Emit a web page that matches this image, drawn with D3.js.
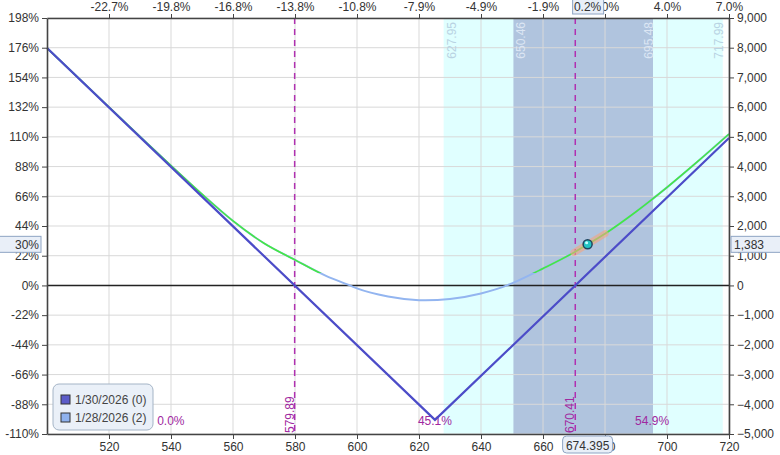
<!DOCTYPE html>
<html>
<head>
<meta charset="utf-8">
<script src="https://cdn.jsdelivr.net/npm/d3@7"></script>
<style>
body { margin: 0; background: #fff; }
svg { font-family: "Liberation Sans", Arial, sans-serif; font-size: 12px; }
.grid line { stroke: #d9d9d9; stroke-width: 1; }
.axis path, .axis line { stroke: #444; }
.axis text { fill: #333; font-size: 12px; }
</style>
</head>
<body>
<script>
// price ticks and the % change labels on top
var priceTicks = [520, 540, 560, 580, 600, 620, 640, 660, 680, 700, 720];
var topTickLabels = ["-22.7%", "-19.8%", "-16.8%", "-13.8%", "-10.8%", "-7.9%", "-4.9%", "-1.9%", "1.0%", "4.0%", "7.0%"];
var pctTicks = [198, 176, 154, 132, 110, 88, 66, 44, 22, 0, -22, -44, -66, -88, -110];
var usdTicks = [9000, 8000, 7000, 6000, 5000, 4000, 3000, 2000, 1000, 0, -1000, -2000, -3000, -4000, -5000];

// expiration P/L (1/30/2026)
var expPrices = [500, 625.15, 720];
var expValues = [7989, -4526, 4959];

// T+0 P/L (1/28/2026)
var nowPrices = [500, 510, 520, 530, 540, 550, 560, 570, 580, 590, 597.7, 600, 610, 620, 622, 630, 640, 648.4, 650, 660, 670, 674.395, 680, 690, 700, 710, 720];
var nowValues = [7989, 6995, 6000, 5010, 4030, 3070, 2170, 1420, 860, 320, 0, -100, -370, -495, -500, -455, -270, 0, 70, 570, 1110, 1383, 1740, 2480, 3300, 4180, 5095];

// bands and markers
var outerBand = [627.95, 717.99];
var innerBand = [650.46, 695.48];
var breakEvens = [579.89, 670.41];
var zoneProbs = [
    {price: 539.95, label: "0.0%"},
    {price: 625.15, label: "45.1%"},
    {price: 695.2, label: "54.9%"}
];
var currentPrice = 674.395;
var currentPL = 1383;
var currentPct = "30%";
var currentChange = "0.2%";
var greenAbove = 420;
var legendItems = [
    {label: "1/30/2026 (0)", color: "#5c5cc8"},
    {label: "1/28/2026 (2)", color: "#8fb2ee"}
];

var width = 780, height = 455;
var plotLeft = 47, plotRight = 729, plotTop = 18, plotBottom = 434;

var svg = d3.select("body").append("svg")
    .attr("width", width)
    .attr("height", height);

var x = d3.scaleLinear().domain([500, 720]).range([plotLeft, plotRight]);
var yPct = d3.scaleLinear().domain([-110, 198]).range([plotBottom, plotTop]);
var yUsd = d3.scaleLinear().domain([-5000, 9000]).range([plotBottom, plotTop]);

// bands
svg.append("rect")
    .attr("x", x(outerBand[0])).attr("y", plotTop)
    .attr("width", x(outerBand[1]) - x(outerBand[0]))
    .attr("height", plotBottom - plotTop)
    .attr("fill", "#e0ffff");
svg.append("rect")
    .attr("x", x(innerBand[0])).attr("y", plotTop)
    .attr("width", x(innerBand[1]) - x(innerBand[0]))
    .attr("height", plotBottom - plotTop)
    .attr("fill", "#b0c4de");

// grid
var grid = svg.append("g").attr("class", "grid");
grid.selectAll(".vg").data(priceTicks).enter().append("line")
    .attr("x1", function(d){ return x(d); })
    .attr("x2", function(d){ return x(d); })
    .attr("y1", plotTop).attr("y2", plotBottom);
grid.selectAll(".hg").data(usdTicks).enter().append("line")
    .attr("x1", plotLeft).attr("x2", plotRight)
    .attr("y1", function(d){ return yUsd(d); })
    .attr("y2", function(d){ return yUsd(d); });

// band edge labels
function bandLabel(p, dx, color){
    svg.append("text")
        .attr("transform", "translate(" + (x(p) + dx) + "," + (plotTop + 4) + ") rotate(-90)")
        .attr("text-anchor", "end")
        .attr("fill", color)
        .text(p.toFixed(2));
}
bandLabel(outerBand[0], 12, "#b9d3e3");
bandLabel(innerBand[0], 12, "#dce6f4");
bandLabel(innerBand[1], 0, "#dce6f4");
bandLabel(outerBand[1], 0, "#b9d3e3");

// zero line
svg.append("line")
    .attr("x1", plotLeft).attr("x2", plotRight)
    .attr("y1", yUsd(0)).attr("y2", yUsd(0))
    .attr("stroke", "#222").attr("stroke-width", 1.5);

// break even lines
breakEvens.forEach(function(p){
    svg.append("line")
        .attr("x1", x(p)).attr("x2", x(p))
        .attr("y1", plotTop).attr("y2", plotBottom)
        .attr("stroke", "#b030b0").attr("stroke-width", 1.5)
        .attr("stroke-dasharray", "6,5");
    svg.append("text")
        .attr("transform", "translate(" + (x(p) - 1) + "," + (plotBottom - 1) + ") rotate(-90)")
        .attr("fill", "#a028a0")
        .text(p.toFixed(2));
});

// zone probabilities
svg.selectAll(".prob").data(zoneProbs).enter().append("text")
    .attr("x", function(d){ return x(d.price); })
    .attr("y", plotBottom - 9)
    .attr("text-anchor", "middle")
    .attr("fill", "#a028a0")
    .text(function(d){ return d.label; });

// T+0 line
var nowData = nowPrices.map(function(p, i){ return [p, nowValues[i]]; });
var line = d3.line()
    .x(function(d){ return x(d[0]); })
    .y(function(d){ return yUsd(d[1]); })
    .curve(d3.curveMonotoneX);

svg.append("clipPath").attr("id", "greenClip")
    .append("rect")
    .attr("x", plotLeft).attr("y", plotTop)
    .attr("width", plotRight - plotLeft)
    .attr("height", yUsd(greenAbove) - plotTop);

svg.append("path")
    .datum(nowData)
    .attr("d", line)
    .attr("fill", "none")
    .attr("stroke", "#93b5f0")
    .attr("stroke-width", 2);
svg.append("path")
    .datum(nowData)
    .attr("d", line)
    .attr("fill", "none")
    .attr("stroke", "#44e844")
    .attr("stroke-width", 1.6)
    .attr("clip-path", "url(#greenClip)");

// expiration line
var expData = expPrices.map(function(p, i){ return [p, expValues[i]]; });
svg.append("path")
    .datum(expData)
    .attr("d", d3.line().x(function(d){ return x(d[0]); }).y(function(d){ return yUsd(d[1]); }))
    .attr("fill", "none")
    .attr("stroke", "#4c4cc8")
    .attr("stroke-width", 2.2);

// highlight and current marker
var hl = nowData.filter(function(d){ return d[0] >= 670 && d[0] <= 680; });
svg.append("path")
    .datum(hl)
    .attr("d", line)
    .attr("fill", "none")
    .attr("stroke", "rgba(245,165,125,0.6)")
    .attr("stroke-width", 7)
    .attr("stroke-linecap", "round");
svg.append("circle")
    .attr("cx", x(currentPrice)).attr("cy", yUsd(currentPL))
    .attr("r", 4.5)
    .attr("fill", "#22c4c4")
    .attr("stroke", "#1f4560").attr("stroke-width", 1.5);
svg.append("circle")
    .attr("cx", x(currentPrice) - 1).attr("cy", yUsd(currentPL) - 1.5)
    .attr("r", 1.5)
    .attr("fill", "#c8ffff");

// axes
var xBottom = d3.axisBottom(x).tickValues(priceTicks).tickSize(5).tickSizeOuter(0);
svg.append("g").attr("class", "axis")
    .attr("transform", "translate(0," + plotBottom + ")")
    .call(xBottom);

var xTop = d3.axisTop(x).tickValues(priceTicks).tickSize(4).tickSizeOuter(0)
    .tickFormat(function(d, i){ return topTickLabels[i]; });
svg.append("g").attr("class", "axis")
    .attr("transform", "translate(0," + plotTop + ")")
    .call(xTop);

var yLeft = d3.axisLeft(yPct).tickValues(pctTicks).tickSize(5).tickSizeOuter(0)
    .tickFormat(function(d){ return d + "%"; });
svg.append("g").attr("class", "axis")
    .attr("transform", "translate(" + plotLeft + ",0)")
    .call(yLeft);

var yRight = d3.axisRight(yUsd).tickValues(usdTicks).tickSize(5).tickSizeOuter(0)
    .tickFormat(d3.format(","));
svg.append("g").attr("class", "axis")
    .attr("transform", "translate(" + plotRight + ",0)")
    .call(yRight);

svg.selectAll(".axis path.domain").attr("stroke-width", 1.6);

// value boxes on the axes
function valueBox(bx, by, bw, bh, rx, txt, anchor, tx){
    svg.append("rect")
        .attr("x", bx).attr("y", by).attr("width", bw).attr("height", bh)
        .attr("rx", rx)
        .attr("fill", "#e9eff8").attr("stroke", "#8ea4c4");
    svg.append("text")
        .attr("x", tx).attr("y", by + bh - 3)
        .attr("text-anchor", anchor)
        .attr("fill", "#333")
        .text(txt);
}
var cy = yUsd(currentPL);
valueBox(-1, cy - 8, 42, 16, 0, currentPct, "end", 39);
valueBox(731, cy - 8, 52, 16, 0, d3.format(",")(currentPL), "start", 734);
valueBox(x(currentPrice) - 25, plotBottom + 2, 50, 17, 4, String(currentPrice), "middle", x(currentPrice));
valueBox(x(currentPrice) - 15, -1, 31, 15, 0, currentChange, "middle", x(currentPrice));

// legend
var legend = svg.append("g").attr("transform", "translate(53,384)");
legend.append("rect")
    .attr("width", 100).attr("height", 46)
    .attr("rx", 6)
    .attr("fill", "#eaf0f8").attr("stroke", "#a4b4c6");
legend.selectAll(".li").data(legendItems).enter().append("rect")
    .attr("x", 8).attr("y", function(d, i){ return 11 + i * 18; })
    .attr("width", 9).attr("height", 9)
    .attr("fill", function(d){ return d.color; })
    .attr("stroke", "#333");
legend.selectAll(".lt").data(legendItems).enter().append("text")
    .attr("x", 22).attr("y", function(d, i){ return 20 + i * 18; })
    .attr("fill", "#444")
    .text(function(d){ return d.label; });
</script>
</body>
</html>
